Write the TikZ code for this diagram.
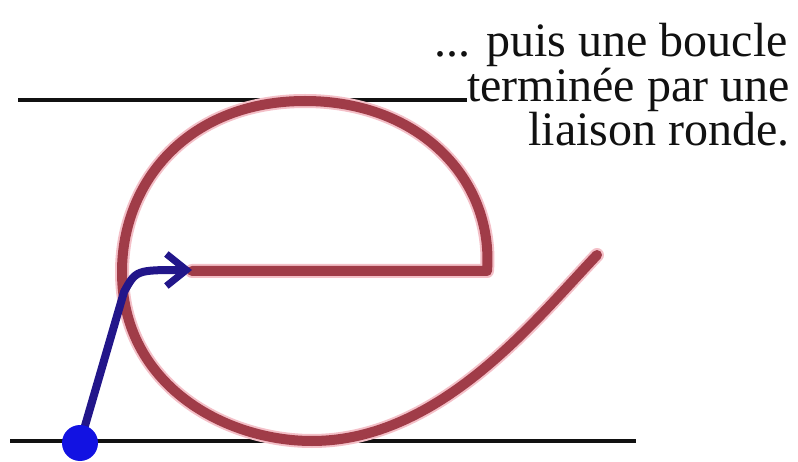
\documentclass[tikz,border=0pt]{standalone}
\usepackage{fontspec}
\setmainfont{Liberation Serif}
\usepackage{xcolor}
\usetikzlibrary{arrows.meta}
\definecolor{eMaroon}{HTML}{A03C48}
\definecolor{eHalo}{HTML}{F4C0C8}
\definecolor{eInk}{HTML}{111111}
\definecolor{eNavy}{HTML}{22168A}
\definecolor{eBlue}{HTML}{1212E2}
\tikzset{
  rule/.style={draw=eInk,line width=3.2pt},
  halo/.style={draw=eHalo,line width=14pt,line cap=round,line join=round},
  letter/.style={draw=eMaroon,line width=10pt,line cap=round,line join=round},
  stroke/.style={draw=eNavy,line width=8pt,line cap=round,
                 -{Straight Barb[length=20pt,width=32pt,line width=7pt]}},
  startdot/.style={circle,fill=eBlue,minimum size=36pt,inner sep=0pt},
  note/.style={font=\fontsize{48}{44}\selectfont,text=eInk,inner sep=0pt,anchor=base east},
}
\begin{document}
\begin{tikzpicture}[x=1pt,y=-1pt]
  \useasboundingbox[fill=white] (0,0) rectangle (798,462);
  % texte
  \node[note] (l1) at (788,57) {... puis une boucle};
  \node[note] (l2) at (790,102) {terminée par une};
  \node[note] (l3) at (790,146) {liaison ronde.};
  % lignes
  \coordinate (topL) at (18,100);
  \coordinate (botL) at (10,441);
  \coordinate (botR) at (636,441);
  \draw[rule] (topL) -- (l2.west |- topL);
  \draw[rule] (botL) -- (botR);
  % la lettre e
  \coordinate (barL) at (192,271);
  \coordinate (barR) at (487,271);
  \coordinate (top) at (305,101);
  \coordinate (left) at (122,272);
  \coordinate (bottom) at (312,441);
  \coordinate (tail) at (597,255);
  \foreach \s in {halo,letter}
    \draw[\s] (barL) -- (barR)
      .. controls (494,180) and (420,101) .. (top)
      .. controls (190,101) and (122,180) .. (left)
      .. controls (122,385) and (225,441) .. (bottom)
      .. controls (440,441) and (535,320) .. (tail);
  % tracé d'attaque
  \coordinate (start) at (80,443);
  \coordinate (knee) at (124,292);
  \coordinate (tip) at (192,270);
  \draw[stroke] (start) -- (knee) .. controls (136,270) .. (tip);
  \node[startdot] (dot) at (start) {};
\end{tikzpicture}
\end{document}
